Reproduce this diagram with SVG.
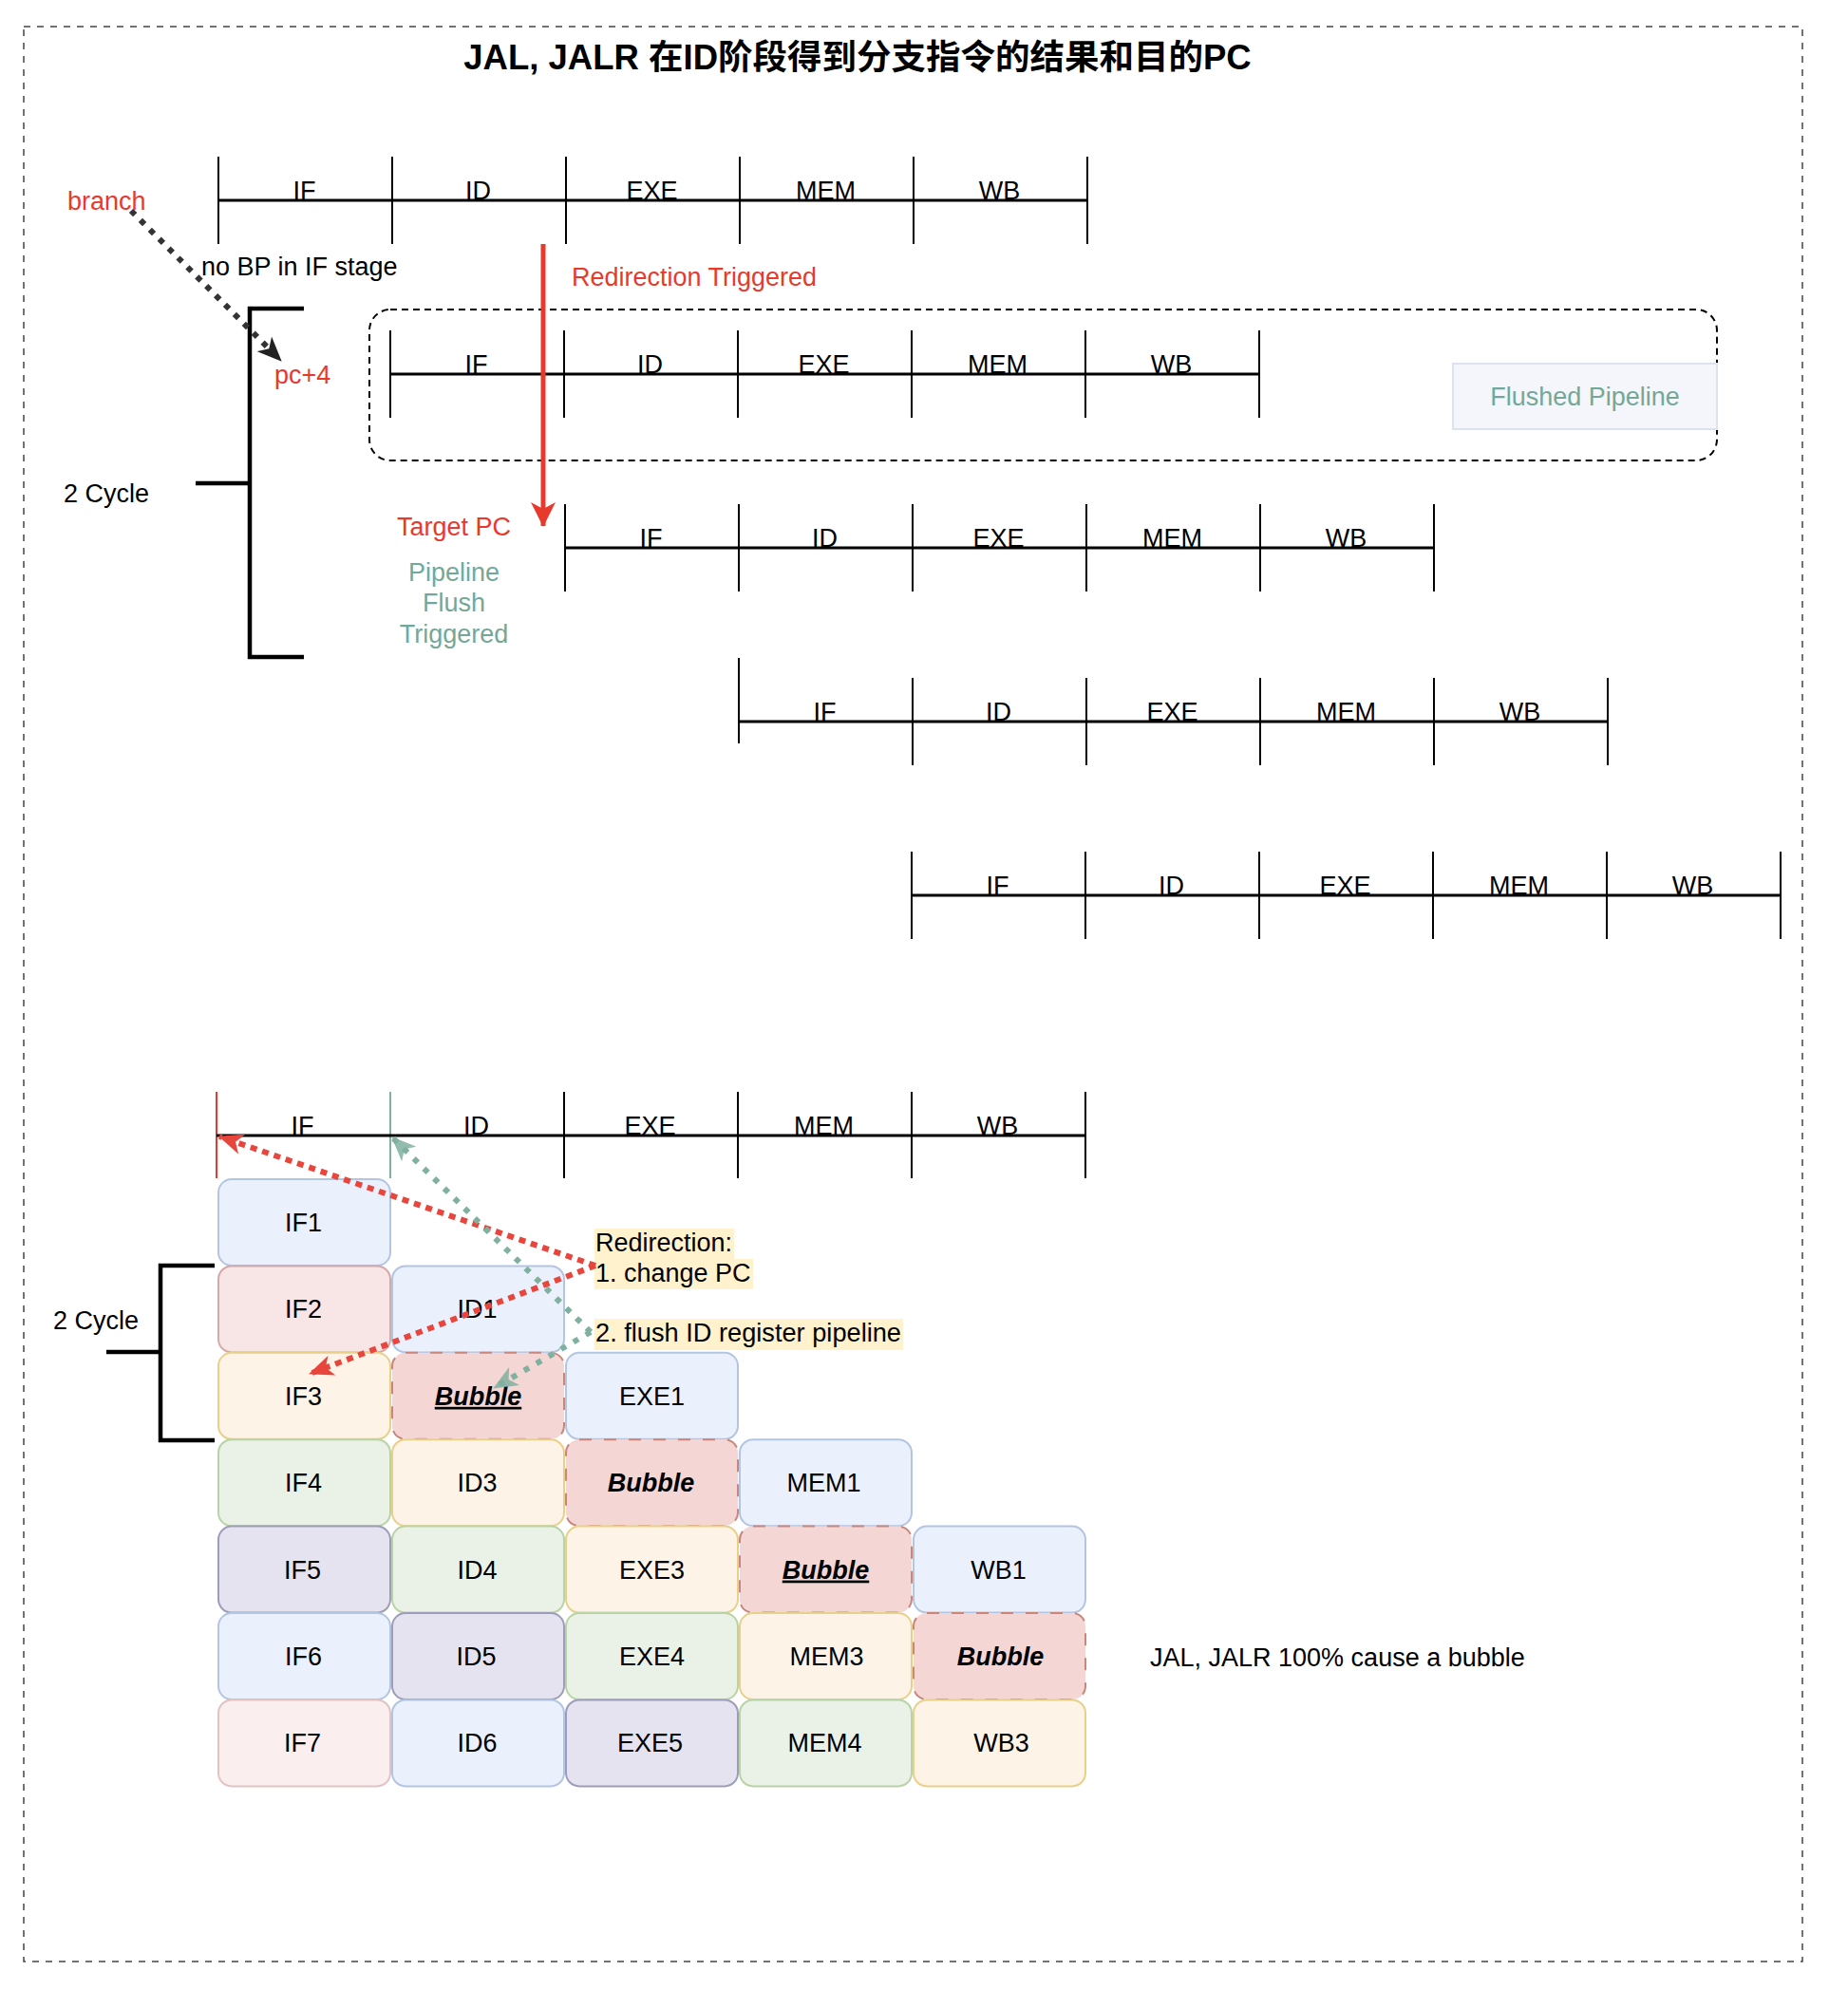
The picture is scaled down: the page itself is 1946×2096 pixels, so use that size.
<svg xmlns="http://www.w3.org/2000/svg" width="1946" height="2096" viewBox="0 0 1946 2096">
<style>
text{font-family:"Liberation Sans","Noto Sans CJK SC",Arial,sans-serif;font-size:27px;fill:#000}
.title{font-size:36.5px;font-weight:bold}
.lbl{text-anchor:middle}
.red{fill:#e8392d}
.teal{fill:#73a898}
.tick{stroke:#000;stroke-width:2;fill:none}
.axis{stroke:#000;stroke-width:3;fill:none}
.brk{stroke:#000;stroke-width:4.5;fill:none}
.cell{stroke-width:2}
.c-blue{fill:#eaf1fc;stroke:#b2c5e2}
.c-red{fill:#f7e6e5;stroke:#d5a9a8}
.c-pink{fill:#faefee;stroke:#e3c3c2}
.c-yel{fill:#fdf3e7;stroke:#e9d089}
.c-grn{fill:#eaf2e8;stroke:#b8d3a5}
.c-pur{fill:#e5e3ef;stroke:#9d9dbb}
.c-bub{fill:#f4d7d5;stroke:#c9867c;stroke-dasharray:13 13}
.bub{font-weight:bold;font-style:italic}
.note{fill:#fff2cc}
</style>
<defs>
<marker id="ahBlack" markerUnits="userSpaceOnUse" viewBox="0 0 26 22" refX="25" refY="11" markerWidth="26" markerHeight="22" orient="auto"><path d="M0,0 L26,11 L0,22 L7,11 Z" fill="#222"/></marker>
<marker id="ahRedBig" markerUnits="userSpaceOnUse" viewBox="0 0 26 26" refX="25" refY="13" markerWidth="26" markerHeight="26" orient="auto"><path d="M0,0 L26,13 L0,26 L7,13 Z" fill="#e8392d"/></marker>
<marker id="ahRed" markerUnits="userSpaceOnUse" viewBox="0 0 26 22" refX="25" refY="11" markerWidth="26" markerHeight="22" orient="auto"><path d="M0,0 L26,11 L0,22 L7,11 Z" fill="#e8453c"/></marker>
<marker id="ahTeal" markerUnits="userSpaceOnUse" viewBox="0 0 26 22" refX="25" refY="11" markerWidth="26" markerHeight="22" orient="auto"><path d="M0,0 L26,11 L0,22 L7,11 Z" fill="#7fb0a0" fill-opacity="0.85"/></marker>
</defs>
<rect width="1946" height="2096" fill="#fff"/>
<rect id="frame" x="25" y="28" width="1873" height="2038" fill="none" stroke="#444" stroke-width="1.5" stroke-dasharray="7 7"/>
<g id="title"><text class="title lbl" x="903" y="73">JAL, JALR 在ID阶段得到分支指令的结果和目的PC</text></g>

<g id="flush-region"><rect x="389" y="326" width="1419" height="159" rx="22" fill="none" stroke="#000" stroke-width="2" stroke-dasharray="7 5"/></g>
<g id="flushed-label"><rect x="1530" y="383" width="278" height="69" fill="#f4f6fb" stroke="#dce3ef" stroke-width="2"/><text class="lbl teal" x="1669" y="427">Flushed Pipeline</text></g>

<g id="row0">
<path class="tick" d="M230,165V257M413,165V257M596,165V257M779,165V257M962,165V257M1145,165V257"/>
<path class="axis" d="M230,211H1145"/>
<text class="lbl" x="320.5" y="210">IF</text><text class="lbl" x="503.5" y="210">ID</text><text class="lbl" x="686.5" y="210">EXE</text><text class="lbl" x="869.5" y="210">MEM</text><text class="lbl" x="1052.5" y="210">WB</text>
</g>
<g id="row1">
<path class="tick" d="M411,348V440M594,348V440M777,348V440M960,348V440M1143,348V440M1326,348V440"/>
<path class="axis" d="M411,394H1326"/>
<text class="lbl" x="501.5" y="393">IF</text><text class="lbl" x="684.5" y="393">ID</text><text class="lbl" x="867.5" y="393">EXE</text><text class="lbl" x="1050.5" y="393">MEM</text><text class="lbl" x="1233.5" y="393">WB</text>
</g>
<g id="row2">
<path class="tick" d="M595,531V623M778,531V623M961,531V623M1144,531V623M1327,531V623M1510,531V623"/>
<path class="axis" d="M595,577H1510"/>
<text class="lbl" x="685.5" y="576">IF</text><text class="lbl" x="868.5" y="576">ID</text><text class="lbl" x="1051.5" y="576">EXE</text><text class="lbl" x="1234.5" y="576">MEM</text><text class="lbl" x="1417.5" y="576">WB</text>
</g>
<g id="row3">
<path class="tick" d="M778,693V783M961,714V806M1144,714V806M1327,714V806M1510,714V806M1693,714V806"/>
<path class="axis" d="M778,760H1693"/>
<text class="lbl" x="868.5" y="759">IF</text><text class="lbl" x="1051.5" y="759">ID</text><text class="lbl" x="1234.5" y="759">EXE</text><text class="lbl" x="1417.5" y="759">MEM</text><text class="lbl" x="1600.5" y="759">WB</text>
</g>
<g id="row4">
<path class="tick" d="M960,897V989M1143,897V989M1326,897V989M1509,897V989M1692,897V989M1875,897V989"/>
<path class="axis" d="M960,943H1875"/>
<text class="lbl" x="1050.5" y="942">IF</text><text class="lbl" x="1233.5" y="942">ID</text><text class="lbl" x="1416.5" y="942">EXE</text><text class="lbl" x="1599.5" y="942">MEM</text><text class="lbl" x="1782.5" y="942">WB</text>
</g>

<g id="branch-label"><text class="red" x="71" y="221">branch</text></g>
<g id="nobp-label"><text x="212" y="290">no BP in IF stage</text></g>
<g id="pc4-label"><text class="red" x="289" y="404">pc+4</text></g>
<g id="redir-label"><text class="red" x="602" y="301">Redirection Triggered</text></g>
<g id="target-label"><text class="red lbl" x="478" y="564">Target PC</text></g>
<g id="flushtrig-label"><text class="teal lbl" x="478" y="612">Pipeline</text><text class="teal lbl" x="478" y="644">Flush</text><text class="teal lbl" x="478" y="677">Triggered</text></g>
<g id="cycle-top"><path class="brk" d="M320,325H263V692H320M206,509H263"/><text x="67" y="529">2 Cycle</text></g>

<g id="header-bottom">
<path class="tick" d="M594,1150V1241M777,1150V1241M960,1150V1241M1143,1150V1241"/>
<path d="M228,1150V1241" stroke="#e8392d" stroke-width="2"/>
<path d="M411,1150V1241" stroke="#7fb0a0" stroke-width="2"/>
<path class="axis" d="M228,1196H1143"/>
<text class="lbl" x="318.5" y="1195">IF</text><text class="lbl" x="501.5" y="1195">ID</text><text class="lbl" x="684.5" y="1195">EXE</text><text class="lbl" x="867.5" y="1195">MEM</text><text class="lbl" x="1050.5" y="1195">WB</text>
</g>

<g id="cells">
<g id="IF1"><rect class="cell c-blue" x="230" y="1242" width="181" height="91" rx="14"/><text class="lbl" x="319.5" y="1297">IF1</text></g>
<g id="IF2"><rect class="cell c-red" x="230" y="1333.4" width="181" height="91" rx="14"/><text class="lbl" x="319.5" y="1388.4">IF2</text></g>
<g id="ID1"><rect class="cell c-blue" x="413" y="1333.4" width="181" height="91" rx="14"/><text class="lbl" x="502.5" y="1388.4">ID1</text></g>
<g id="IF3"><rect class="cell c-yel" x="230" y="1424.8" width="181" height="91" rx="14"/><text class="lbl" x="319.5" y="1479.8">IF3</text></g>
<g id="Bubble-ID"><rect class="cell c-bub" x="413" y="1424.8" width="181" height="91" rx="14"/><text class="lbl bub" x="503.5" y="1479.8" text-decoration="underline">Bubble</text></g>
<g id="EXE1"><rect class="cell c-blue" x="596" y="1424.8" width="181" height="91" rx="14"/><text class="lbl" x="686.5" y="1479.8">EXE1</text></g>
<g id="IF4"><rect class="cell c-grn" x="230" y="1516.2" width="181" height="91" rx="14"/><text class="lbl" x="319.5" y="1571.2">IF4</text></g>
<g id="ID3"><rect class="cell c-yel" x="413" y="1516.2" width="181" height="91" rx="14"/><text class="lbl" x="502.5" y="1571.2">ID3</text></g>
<g id="Bubble-EXE"><rect class="cell c-bub" x="596" y="1516.2" width="181" height="91" rx="14"/><text class="lbl bub" x="685.5" y="1571.2">Bubble</text></g>
<g id="MEM1"><rect class="cell c-blue" x="779" y="1516.2" width="181" height="91" rx="14"/><text class="lbl" x="867.5" y="1571.2">MEM1</text></g>
<g id="IF5"><rect class="cell c-pur" x="230" y="1607.6" width="181" height="91" rx="14"/><text class="lbl" x="318.5" y="1662.6">IF5</text></g>
<g id="ID4"><rect class="cell c-grn" x="413" y="1607.6" width="181" height="91" rx="14"/><text class="lbl" x="502.5" y="1662.6">ID4</text></g>
<g id="EXE3"><rect class="cell c-yel" x="596" y="1607.6" width="181" height="91" rx="14"/><text class="lbl" x="686.5" y="1662.6">EXE3</text></g>
<g id="Bubble-MEM"><rect class="cell c-bub" x="779" y="1607.6" width="181" height="91" rx="14"/><text class="lbl bub" x="869.5" y="1662.6" text-decoration="underline">Bubble</text></g>
<g id="WB1"><rect class="cell c-blue" x="962" y="1607.6" width="181" height="91" rx="14"/><text class="lbl" x="1051.5" y="1662.6">WB1</text></g>
<g id="IF6"><rect class="cell c-blue" x="230" y="1699" width="181" height="91" rx="14"/><text class="lbl" x="319.5" y="1754">IF6</text></g>
<g id="ID5"><rect class="cell c-pur" x="413" y="1699" width="181" height="91" rx="14"/><text class="lbl" x="501.5" y="1754">ID5</text></g>
<g id="EXE4"><rect class="cell c-grn" x="596" y="1699" width="181" height="91" rx="14"/><text class="lbl" x="686.5" y="1754">EXE4</text></g>
<g id="MEM3"><rect class="cell c-yel" x="779" y="1699" width="181" height="91" rx="14"/><text class="lbl" x="870.5" y="1754">MEM3</text></g>
<g id="Bubble-WB"><rect class="cell c-bub" x="962" y="1699" width="181" height="91" rx="14"/><text class="lbl bub" x="1053.5" y="1754">Bubble</text></g>
<g id="IF7"><rect class="cell c-pink" x="230" y="1790.4" width="181" height="91" rx="14"/><text class="lbl" x="318.5" y="1845.4">IF7</text></g>
<g id="ID6"><rect class="cell c-blue" x="413" y="1790.4" width="181" height="91" rx="14"/><text class="lbl" x="502.5" y="1845.4">ID6</text></g>
<g id="EXE5"><rect class="cell c-pur" x="596" y="1790.4" width="181" height="91" rx="14"/><text class="lbl" x="684.5" y="1845.4">EXE5</text></g>
<g id="MEM4"><rect class="cell c-grn" x="779" y="1790.4" width="181" height="91" rx="14"/><text class="lbl" x="868.5" y="1845.4">MEM4</text></g>
<g id="WB3"><rect class="cell c-yel" x="962" y="1790.4" width="181" height="91" rx="14"/><text class="lbl" x="1054.5" y="1845.4">WB3</text></g>
</g>

<g id="cycle-bottom"><path class="brk" d="M226,1333H169V1517H226M112,1424H169"/><text x="56" y="1400">2 Cycle</text></g>
<g id="note-redirect"><rect class="note" x="626" y="1294" width="147" height="32"/><rect class="note" x="626" y="1326" width="167" height="32"/><text x="627" y="1318">Redirection:</text><text x="627" y="1350">1. change PC</text></g>
<g id="note-flush"><rect class="note" x="626" y="1389" width="325" height="33"/><text x="627" y="1413" textLength="322" lengthAdjust="spacingAndGlyphs">2. flush ID register pipeline</text></g>
<g id="note-bubble"><text x="1211" y="1755">JAL, JALR 100% cause a bubble</text></g>

<g id="connectors">
<path d="M138,222L296,380" fill="none" stroke="#333" stroke-width="6" stroke-dasharray="6 8" marker-end="url(#ahBlack)"/>
<path d="M572,257V554" fill="none" stroke="#e8392d" stroke-width="5" marker-end="url(#ahRedBig)"/>
<path d="M627,1333L231,1197" fill="none" stroke="#e8453c" stroke-width="6" stroke-dasharray="7 6" marker-end="url(#ahRed)"/>
<path d="M627,1333L326,1447" fill="none" stroke="#e8453c" stroke-width="6" stroke-dasharray="7 6" marker-end="url(#ahRed)"/>
<path d="M622,1403L413,1198" fill="none" stroke="#7fb0a0" stroke-width="6" stroke-dasharray="6 9" marker-end="url(#ahTeal)"/>
<path d="M622,1403L520,1462" fill="none" stroke="#7fb0a0" stroke-width="6" stroke-dasharray="6 9" marker-end="url(#ahTeal)"/>
</g>
</svg>
